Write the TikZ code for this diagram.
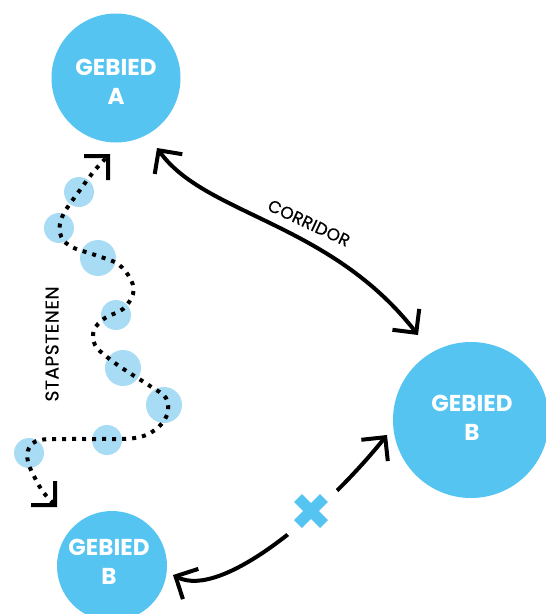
\documentclass[tikz,border=0pt]{standalone}
\usepackage{fontspec}
\setmainfont{Poppins}
\usetikzlibrary{arrows.meta,calc}
\definecolor{gblue}{HTML}{55C4F1}
\definecolor{glight}{HTML}{A8DCF5}
\tikzset{
  area/.style={circle, fill=gblue, inner sep=0pt},
  areatext/.style={text=white, align=center, inner sep=0pt,
    font=\fontsize{23}{29}\selectfont\bfseries},
  stone/.style={circle, fill=glight, inner sep=0pt},
  chev/.style={{Straight Barb[angle=90:24pt]}-{Straight Barb[angle=90:24pt]}},
  conn/.style={line width=4pt, chev},
  dotpath/.style={line width=4pt, dash pattern=on 4pt off 6pt, chev},
  cross/.style={line width=11pt, gblue}
}
\begin{document}
\begin{tikzpicture}[x=1pt,y=-1pt]
\useasboundingbox (0,0) rectangle (546,614);
\clip (0,0) rectangle (546,614);
% areas
\node[area, minimum size=129pt] (A) at (116,78) {};
\node[areatext] (At) at (116,82) {GEBIED\\A};
\node[area, minimum size=156pt] (BR) at (471,420) {};
\node[areatext] (BRt) at (472,418) {GEBIED\\B};
\node[area, minimum size=110pt] (BB) at (112,566) {};
\node[areatext] (BBt) at (109,562) {GEBIED\\B};
% stepping stones
\node[stone, minimum size=30pt] (s1) at (79,192) {};
\node[stone, minimum size=30pt] (s2) at (59,228) {};
\node[stone, minimum size=36pt] (s3) at (98,258) {};
\node[stone, minimum size=30pt] (s4) at (116,315) {};
\node[stone, minimum size=36pt] (s5) at (123,368) {};
\node[stone, minimum size=36pt] (s6) at (164,405) {};
\node[stone, minimum size=30pt] (s7) at (107,440) {};
\node[stone, minimum size=30pt] (s8) at (29,453) {};
% endpoints
\coordinate (pb) at ($(BB)+(-55,-59)$);
\coordinate (pa) at ($(A)+(-6,76)$);
\coordinate (ca) at ($(A)+(41,70)$);
\coordinate (cb) at ($(BR)+(-53,-85)$);
\coordinate (xa) at ($(BB)+(61,9)$);
\coordinate (xb) at ($(BR)+(-84,15)$);
% stapstenen path
\draw[dotpath] plot[smooth, tension=0.6] coordinates {(pb) (44,493) (36,480) (28,462) (29,448) (40,440) (70,439) (100,439) (135,438) (155,430) (167,415) (166,398) (150,386) (125,370) (107,357) (95,345) (94,330) (105,318) (123,309) (133,294) (131,280) (118,264) (95,255) (70,246) (60,233) (63,215) (80,190) (95,170) (pa)};
% corridor
\draw[conn] (ca) .. controls (205,215) and (330,222) .. (cb);
\node[inner sep=0pt, rotate=-25, font=\fontsize{17}{19}\selectfont\addfontfeature{LetterSpace=1,FakeBold=0.5}] (corr) at (309,223) {CORRIDOR};
\node[inner sep=0pt, rotate=90, font=\fontsize{18.5}{20}\selectfont\addfontfeature{LetterSpace=3,FakeBold=0.5}] (stap) at (52,344) {STAPSTENEN};
% blocked connection
\draw[conn] (xa) .. controls (222,600) and (325,512) .. (xb);
\coordinate (xc) at (311,511);
\fill[white] (xc) circle (33);
\draw[cross] ($(xc)+(-13,-13)$) -- ($(xc)+(13,13)$);
\draw[cross] ($(xc)+(13,-13)$) -- ($(xc)+(-13,13)$);
\end{tikzpicture}
\end{document}
